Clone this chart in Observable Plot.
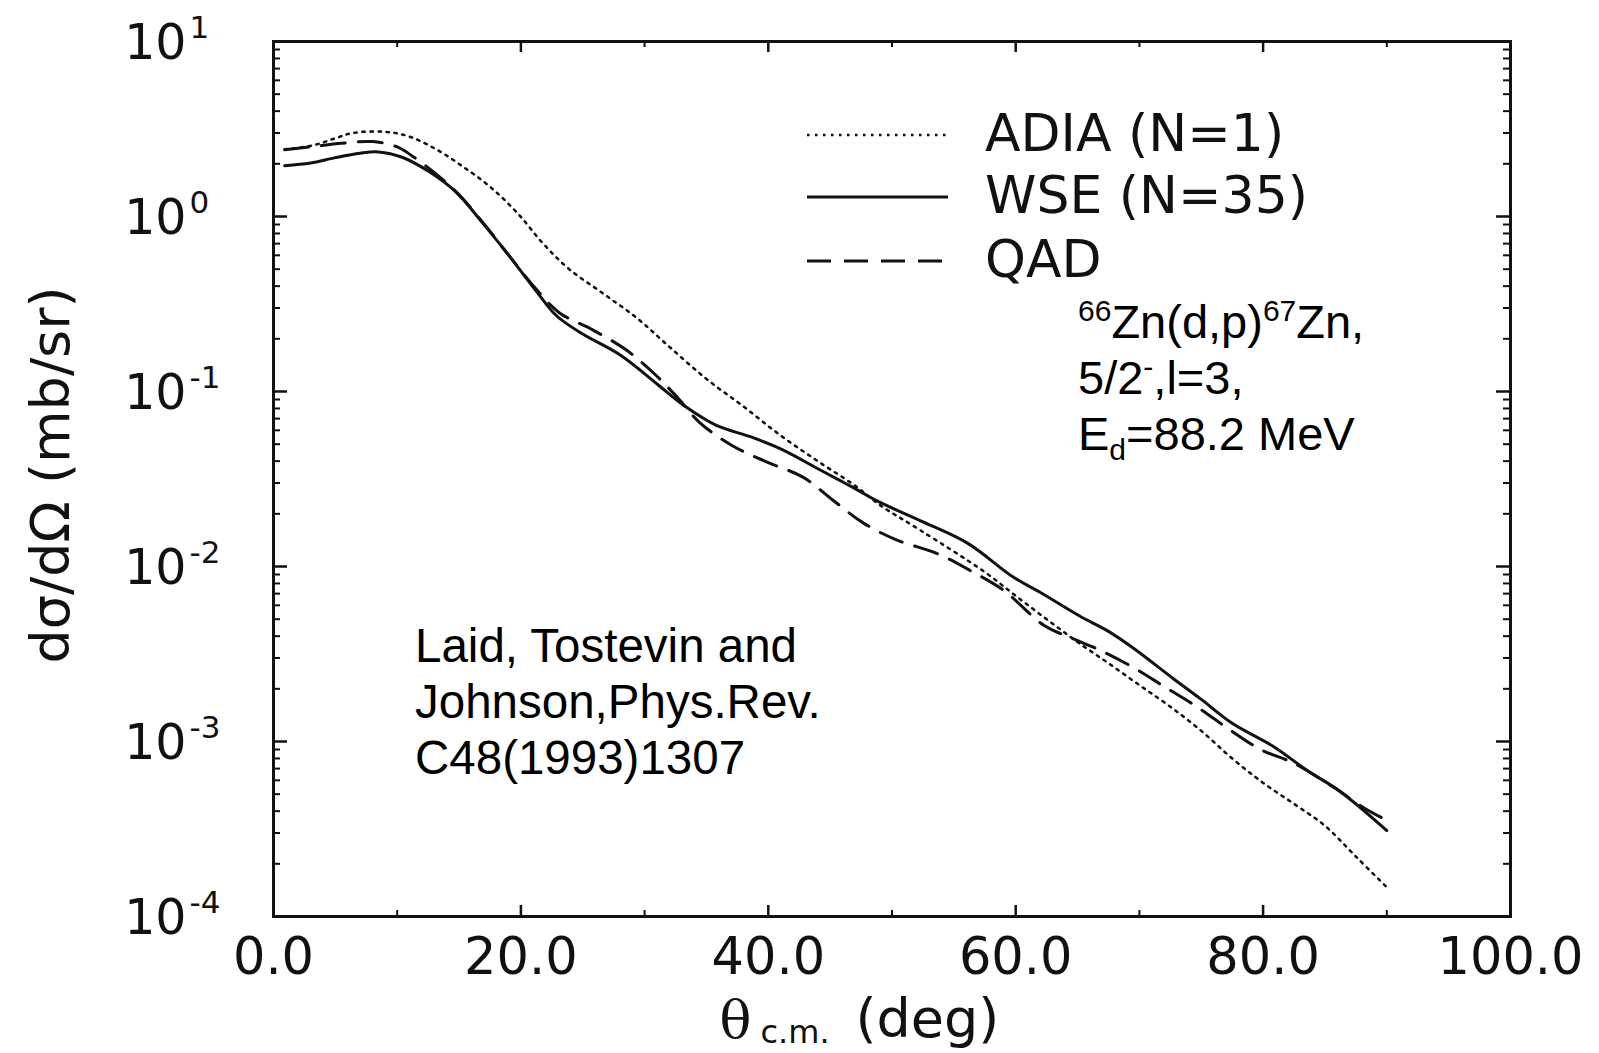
<!DOCTYPE html>
<html>
<head>
<meta charset="utf-8">
<script src="https://cdn.jsdelivr.net/npm/d3@7"></script>
<script src="https://cdn.jsdelivr.net/npm/@observablehq/plot@0.6"></script>
<style>
  html, body { margin: 0; padding: 0; background: #fff; }
  #chart svg { display: block; }
</style>
</head>
<body>
<div id="chart"></div>
<script>
// ---- Data ----
const seriesNames = ["ADIA (N=1)", "WSE (N=35)", "QAD"];

const adiaTheta = [0.9, 3.2, 5.0, 6.4, 9.0, 11.0, 13.2, 15.3, 17.5, 19.7, 21.8, 23.9, 26.6, 29.4, 32.0, 35.0, 38.0, 41.0, 44.0, 47.0, 49.0, 52.3, 57.5, 60.0, 62.5, 65.0, 67.5, 70.0, 72.5, 75.0, 77.5, 80.0, 82.5, 85.0, 87.5, 90.0];
const adiaSigma = [2.42, 2.55, 2.8, 3.0, 3.05, 2.86, 2.41, 1.93, 1.48, 1.05, 0.70, 0.50, 0.365, 0.262, 0.18, 0.118, 0.082, 0.056, 0.040, 0.029, 0.0225, 0.0161, 0.0093, 0.0068, 0.0050, 0.0037, 0.0028, 0.0021, 0.00158, 0.00115, 0.00080, 0.00058, 0.00044, 0.00033, 0.00022, 0.000147];

const wseTheta = [0.9, 3.0, 5.0, 7.0, 8.5, 10.4, 12.6, 14.8, 16.9, 19.1, 21.3, 22.9, 25.0, 28.0, 31.1, 33.3, 35.8, 38.6, 41.0, 44.2, 46.8, 49.0, 52.5, 56.1, 59.8, 62.0, 65.2, 67.4, 69.3, 72.7, 75.0, 77.5, 80.8, 83.6, 86.2, 90.0];
const wseSigma = [1.95, 2.02, 2.17, 2.30, 2.34, 2.18, 1.80, 1.37, 0.92, 0.59, 0.37, 0.27, 0.213, 0.162, 0.109, 0.082, 0.064, 0.055, 0.047, 0.0356, 0.0284, 0.0233, 0.018, 0.0136, 0.0087, 0.0071, 0.0052, 0.0043, 0.0035, 0.0023, 0.00174, 0.00127, 0.00094, 0.00068, 0.00052, 0.00031];

const qadTheta = [0.9, 3.0, 5.5, 8.0, 10.0, 11.2, 13.4, 15.0, 17.0, 19.1, 21.3, 23.1, 25.8, 28.5, 30.7, 32.5, 34.5, 37.1, 39.9, 42.8, 45.2, 47.7, 50.4, 53.6, 56.3, 59.0, 62.3, 64.5, 66.8, 69.5, 72.1, 74.7, 77.2, 79.8, 82.5, 85.7, 88.1, 90.0];
const qadSigma = [2.41, 2.50, 2.62, 2.68, 2.5, 2.22, 1.69, 1.33, 0.91, 0.59, 0.38, 0.282, 0.225, 0.173, 0.128, 0.095, 0.066, 0.049, 0.0395, 0.0324, 0.024, 0.0177, 0.01416, 0.0119, 0.0095, 0.00733, 0.0046, 0.0039, 0.00333, 0.00265, 0.00204, 0.00157, 0.00118, 0.00090, 0.00075, 0.000547, 0.00042, 0.000354];

const xTickValues = [0, 20, 40, 60, 80, 100];
const xTickLabels = ["0.0", "20.0", "40.0", "60.0", "80.0", "100.0"];
const xMinorTicks = [10, 30, 50, 70, 90];
const yTickValues = [1e-4, 1e-3, 1e-2, 1e-1, 1, 10];
const yTickExponents = ["-4", "-3", "-2", "-1", "0", "1"];
const yMinorTicks = [];
for (let e = -4; e <= 0; e++) for (let k = 2; k <= 9; k++) yMinorTicks.push(k * Math.pow(10, e));

const xLabelParts = ["θ", "c.m.", "(deg)"];
const yLabel = "dσ/dΩ (mb/sr)";

// ---- Layout ----
const W = 1599, H = 1053;
const mL = 273, mR = 89, mT = 41, mB = 137;
const pw = W - mL - mR, ph = H - mT - mB;
const ink = "#111";

const rows = (name, t, s) => t.map((x, i) => ({series: name, theta: x, sigma: s[i]}));
const adia = rows(seriesNames[0], adiaTheta, adiaSigma);
const wse = rows(seriesNames[1], wseTheta, wseSigma);
const qad = rows(seriesNames[2], qadTheta, qadSigma);

const sans = "DejaVu Sans";

const chart = Plot.plot({
  width: W, height: H,
  marginLeft: mL, marginRight: mR, marginTop: mT, marginBottom: mB,
  style: {background: "#fff", overflow: "visible"},
  x: {domain: [0, 100], axis: null},
  y: {type: "log", domain: [1e-4, 10], axis: null},
  marks: [
    // ticks (inward, all four sides)
    Plot.tickY(yTickValues, {y: d => d, insetRight: pw - 14, stroke: ink, strokeWidth: 2.5}),
    Plot.tickY(yTickValues, {y: d => d, insetLeft: pw - 14, stroke: ink, strokeWidth: 2.5}),
    Plot.tickY(yMinorTicks, {y: d => d, insetRight: pw - 7, stroke: ink, strokeWidth: 2}),
    Plot.tickY(yMinorTicks, {y: d => d, insetLeft: pw - 7, stroke: ink, strokeWidth: 2}),
    Plot.tickX(xTickValues, {x: d => d, insetTop: ph - 11, stroke: ink, strokeWidth: 2.5}),
    Plot.tickX(xTickValues, {x: d => d, insetBottom: ph - 11, stroke: ink, strokeWidth: 2.5}),
    Plot.tickX(xMinorTicks, {x: d => d, insetTop: ph - 6, stroke: ink, strokeWidth: 2}),
    Plot.tickX(xMinorTicks, {x: d => d, insetBottom: ph - 6, stroke: ink, strokeWidth: 2}),
    Plot.frame({stroke: ink, strokeWidth: 3}),
    // curves
    Plot.line(adia, {x: "theta", y: "sigma", curve: "catmull-rom", stroke: ink, strokeWidth: 2.5, strokeDasharray: "2.5,5.5"}),
    Plot.line(qad, {x: "theta", y: "sigma", curve: "catmull-rom", stroke: ink, strokeWidth: 3, strokeDasharray: "24,13"}),
    Plot.line(wse, {x: "theta", y: "sigma", curve: "catmull-rom", stroke: ink, strokeWidth: 3}),
    // x tick labels
    Plot.text(xTickValues, {x: d => d, text: (d, i) => xTickLabels[i], frameAnchor: "bottom", dy: 57, lineAnchor: "bottom", textAnchor: "middle", fontFamily: sans, fontSize: 51, fill: ink}),
    // y tick labels: "10" + exponent
    Plot.text(yTickValues, {y: d => d, text: () => "10", frameAnchor: "left", dx: -87, dy: 2, textAnchor: "end", lineAnchor: "middle", fontFamily: sans, fontSize: 49, fill: ink}),
    Plot.text(yTickValues, {y: d => d, text: (d, i) => yTickExponents[i], frameAnchor: "left", dx: -84, dy: -4, textAnchor: "start", lineAnchor: "bottom", fontFamily: sans, fontSize: 31, fill: ink}),
    // axis titles
    Plot.text([yLabel], {text: d => d, frameAnchor: "left", dx: -222, dy: -4, rotate: -90, textAnchor: "middle", lineAnchor: "middle", fontFamily: sans, fontSize: 54, fill: ink}),
    Plot.text([xLabelParts[0]], {text: d => d, frameAnchor: "bottom-left", dx: 446, dy: 121, textAnchor: "start", lineAnchor: "bottom", fontFamily: "DejaVu Serif", fontSize: 53, fill: ink}),
    Plot.text([xLabelParts[1]], {text: d => d, frameAnchor: "bottom-left", dx: 487, dy: 126, textAnchor: "start", lineAnchor: "bottom", fontFamily: sans, fontSize: 32, fill: ink}),
    Plot.text([xLabelParts[2]], {text: d => d, frameAnchor: "bottom-left", dx: 582, dy: 120, textAnchor: "start", lineAnchor: "bottom", fontFamily: sans, fontSize: 54, fill: ink})
  ]
});

document.getElementById("chart").appendChild(chart);
const svg = d3.select(chart);

// ---- Legend ----
const legendItems = [
  {name: seriesNames[0], y: 135, dash: "2.5,5.5", sw: 2.5},
  {name: seriesNames[1], y: 197, dash: null, sw: 3},
  {name: seriesNames[2], y: 261, dash: "24,13", sw: 3}
];
const lg = svg.append("g").attr("class", "legend").attr("text-anchor", "start");
legendItems.forEach(it => {
  lg.append("line").attr("x1", 807).attr("x2", 948).attr("y1", it.y).attr("y2", it.y)
    .attr("stroke", ink).attr("stroke-width", it.sw).attr("stroke-dasharray", it.dash);
  lg.append("text").attr("x", 985).attr("y", it.y + 16).attr("text-anchor", "start")
    .attr("font-family", sans).attr("font-size", 52).attr("fill", ink).text(it.name);
});

// ---- Annotations ----
const aFont = "Liberation Sans, Arial, sans-serif";
const ann = svg.append("g").attr("font-family", aFont).attr("fill", "#000").attr("text-anchor", "start");
function richLine(x, y, parts) {
  const t = ann.append("text").attr("x", x).attr("y", y).attr("font-size", 47).attr("text-anchor", "start");
  let shift = 0;
  parts.forEach(p => {
    const target = p.sup ? -17 : p.sub ? 10 : 0;
    t.append("tspan").attr("dy", target - shift).attr("font-size", (p.sup || p.sub) ? 30 : 47).text(p.s);
    shift = target;
  });
}
richLine(1078, 338, [{s: "66", sup: true}, {s: "Zn(d,p)"}, {s: "67", sup: true}, {s: "Zn,"}]);
richLine(1078, 394, [{s: "5/2"}, {s: "-", sup: true}, {s: ",l=3,"}]);
richLine(1078, 450, [{s: "E"}, {s: "d", sub: true}, {s: "=88.2 MeV"}]);

const refLines = ["Laid, Tostevin and", "Johnson,Phys.Rev.", "C48(1993)1307"];
refLines.forEach((s, i) => {
  ann.append("text").attr("x", 415).attr("y", 662 + 56 * i).attr("font-size", 47.5).attr("text-anchor", "start").text(s);
});
</script>
</body>
</html>
